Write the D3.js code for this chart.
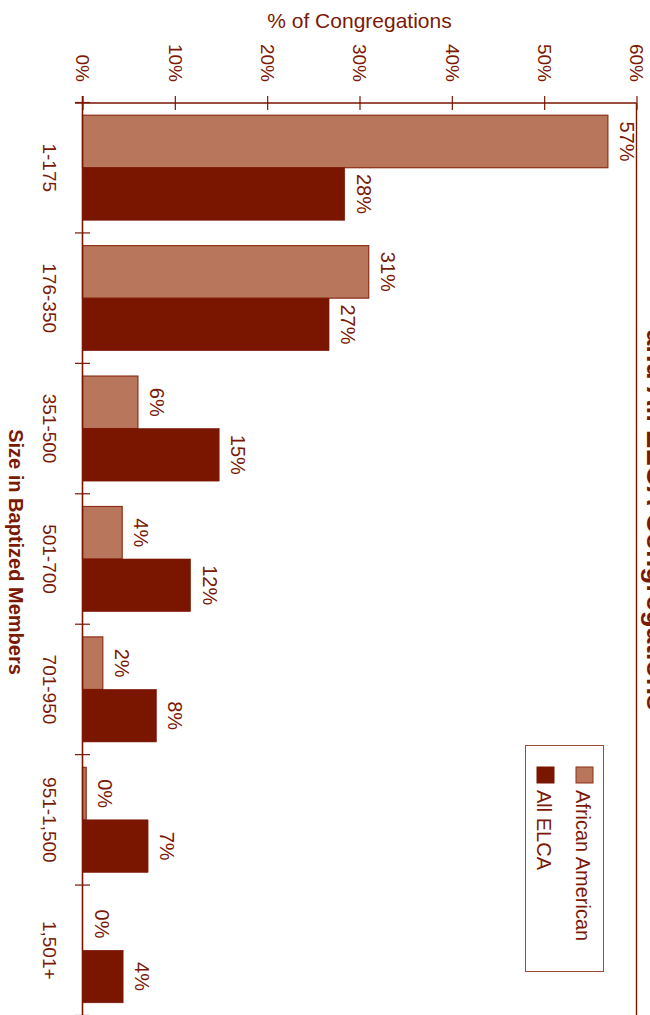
<!DOCTYPE html>
<html>
<head>
<meta charset="utf-8">
<script src="https://cdn.jsdelivr.net/npm/d3@7"></script>
<style>
  html, body { margin: 0; padding: 0; background: #fff; }
  svg { display: block; }
  text { font-family: "Liberation Sans", Arial, sans-serif; fill: #7a1a06; }
</style>
</head>
<body>
<svg id="chart" width="650" height="1015"></svg>
<script>
// ---- data ----
const categories = ["1-175", "176-350", "351-500", "501-700", "701-950", "951-1,500", "1,501+"];
const seriesNames = ["African American", "All ELCA"];
const africanAmerican = [56.9, 31.0, 6.0, 4.3, 2.2, 0.4, 0];
const allELCA = [28.4, 26.7, 14.8, 11.7, 8.0, 7.1, 4.4];
const tickValues = [0, 10, 20, 30, 40, 50, 60];
const tickLabels = ["0%", "10%", "20%", "30%", "40%", "50%", "60%"];
const titleLine = "and All ELCA Congregations";
const valueAxisTitle = "% of Congregations";
const categoryAxisTitle = "Size in Baptized Members";

// ---- styles ----
const dark = "#7a1500";
const light = "#b8775c";
const lightStroke = "#8e2e16";
const textCol = "#7a1a06";

const svg = d3.select("#chart");

const x = d3.scaleLinear().domain([0, 60]).range([82.5, 636.5]);
const y = d3.scaleBand().domain(categories).range([102.5, 1015.5]);
const sub = d3.scaleBand().domain(seriesNames).range([0, y.bandwidth()]).paddingInner(0).paddingOuter(0.242);

const rows = categories.map((c, i) => ({ cat: c, vals: [
  { s: seriesNames[0], v: africanAmerican[i] },
  { s: seriesNames[1], v: allELCA[i] }
]}));

// bars
const g = svg.append("g");
const grp = g.selectAll("g.cat").data(rows).join("g")
  .attr("class", "cat")
  .attr("transform", d => `translate(0,${y(d.cat)})`);

grp.selectAll("rect").data(d => d.vals).join("rect")
  .attr("x", x(0))
  .attr("y", d => sub(d.s))
  .attr("width", d => Math.max(0, x(d.v) - x(0)))
  .attr("height", sub.bandwidth())
  .attr("fill", d => d.s === seriesNames[0] ? light : dark)
  .attr("stroke", d => d.s === seriesNames[0] ? lightStroke : dark)
  .attr("stroke-width", d => d.s === seriesNames[0] ? 1.2 : 0.6)
  .attr("display", d => d.v > 0 ? null : "none");

// value labels
grp.selectAll("text.val").data(d => d.vals).join("text")
  .attr("class", "val")
  .attr("transform", d => `translate(${x(d.v) + 12},${sub(d.s) + sub.bandwidth() / 2}) rotate(90)`)
  .attr("text-anchor", "middle")
  .attr("font-size", 20)
  .text(d => Math.round(d.v) + "%");

// value axis (top)
const axisTop = d3.axisTop(x).tickValues(tickValues).tickSize(0).tickFormat("");
const ax = svg.append("g").attr("transform", "translate(0,103)").call(axisTop);
ax.select(".domain").remove();
svg.append("line").attr("x1", 75).attr("x2", x(60)).attr("y1", 103).attr("y2", 103)
  .attr("stroke", dark).attr("stroke-width", 1.6);
ax.selectAll(".tick").append("line")
  .attr("y1", -7).attr("y2", 7).attr("stroke", dark).attr("stroke-width", 1.2);
ax.selectAll(".tick").append("text")
  .attr("transform", "translate(0,-21) rotate(90)")
  .attr("text-anchor", "end")
  .attr("dy", "0.35em")
  .attr("font-size", 19)
  .attr("fill", textCol)
  .text((d, i) => tickLabels[i]);

// right frame line
svg.append("line").attr("x1", x(60)).attr("x2", x(60)).attr("y1", 103).attr("y2", 1015)
  .attr("stroke", dark).attr("stroke-width", 1.4);

// category axis (left)
svg.append("line").attr("x1", x(0)).attr("x2", x(0)).attr("y1", 96).attr("y2", 1015)
  .attr("stroke", dark).attr("stroke-width", 1.6);
const bounds = categories.map(c => y(c)).concat([y.range()[1]]);
svg.selectAll("line.ctick").data(bounds).join("line")
  .attr("class", "ctick")
  .attr("x1", 75).attr("x2", 90)
  .attr("y1", d => d).attr("y2", d => d)
  .attr("stroke", dark).attr("stroke-width", 1.2);
svg.selectAll("text.cat").data(categories).join("text")
  .attr("class", "cat")
  .attr("transform", d => `translate(43,${y(d) + y.bandwidth() / 2}) rotate(90)`)
  .attr("text-anchor", "middle")
  .attr("font-size", 19)
  .text(d => d);

// axis titles
svg.append("text")
  .attr("x", (x(0) + x(60)) / 2).attr("y", 28)
  .attr("text-anchor", "middle")
  .attr("font-size", 21)
  .text(valueAxisTitle);
svg.append("text")
  .attr("transform", `translate(9,552) rotate(90)`)
  .attr("text-anchor", "middle")
  .attr("font-size", 20)
  .attr("font-weight", "bold")
  .text(categoryAxisTitle);

// chart title (mostly off-canvas, as in the reference)
svg.append("text")
  .attr("transform", `translate(647,520) rotate(90)`)
  .attr("text-anchor", "middle")
  .attr("font-size", 28)
  .attr("font-weight", "bold")
  .text(titleLine);

// legend
const lg = svg.append("g");
lg.append("rect").attr("x", 525.5).attr("y", 745.5).attr("width", 78).attr("height", 226)
  .attr("fill", "#fff").attr("stroke", "#9b4a38").attr("stroke-width", 1);
const legendItems = [
  { name: seriesNames[0], fill: light, stroke: lightStroke, bx: 576 },
  { name: seriesNames[1], fill: dark, stroke: dark, bx: 537 }
];
legendItems.forEach(it => {
  lg.append("rect").attr("x", it.bx).attr("y", 767).attr("width", 17).attr("height", 16)
    .attr("fill", it.fill).attr("stroke", it.stroke).attr("stroke-width", 1);
  lg.append("text")
    .attr("transform", `translate(${it.bx},790) rotate(90)`)
    .attr("text-anchor", "start")
    .attr("font-size", 20)
    .text(it.name);
});
</script>
</body>
</html>
